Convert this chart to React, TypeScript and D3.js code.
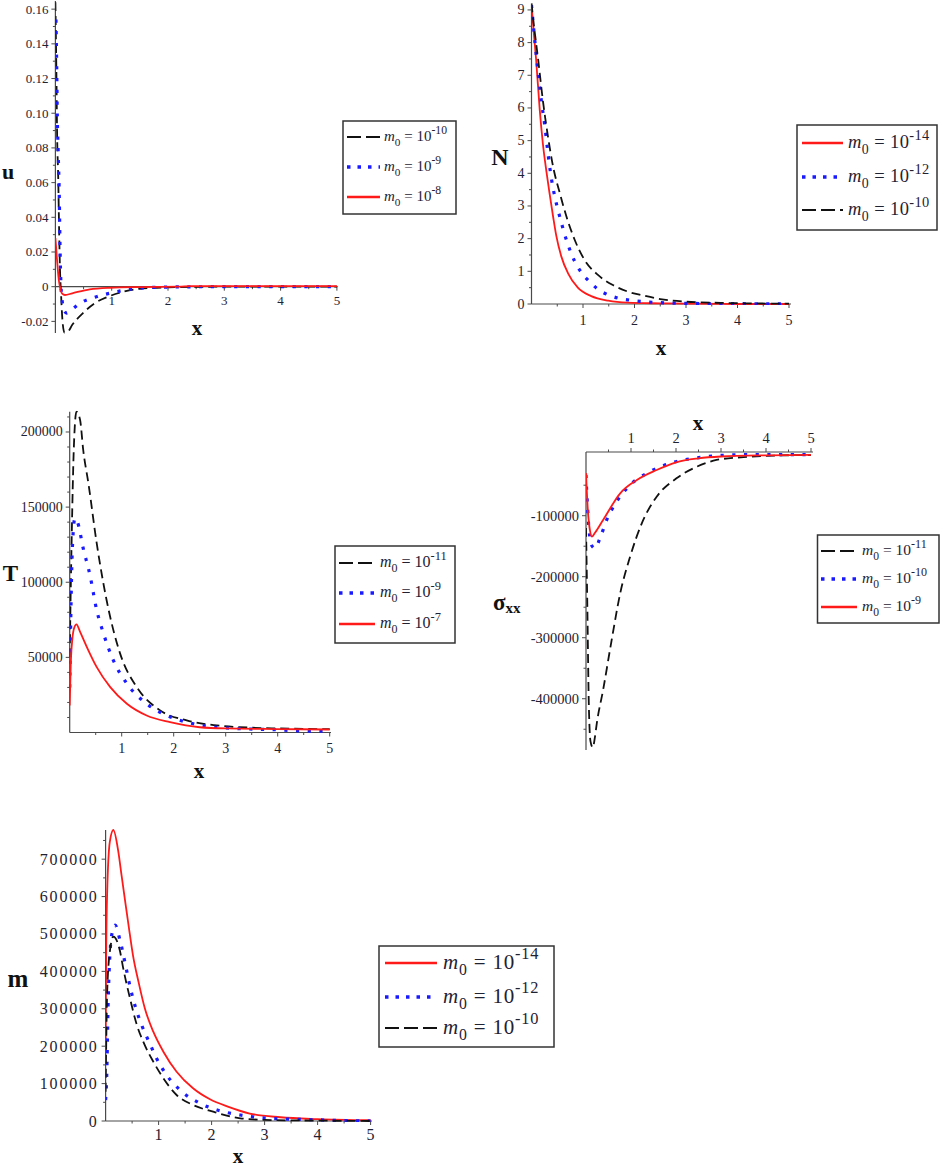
import React from 'react';
import * as d3 from 'd3';

type P = [number, number];

// ---------- data: u ----------
const uBlack: P[] = [[0, 0.164], [0.02, 0.117], [0.03, 0.0885], [0.05, 0.063], [0.065, 0.0346], [0.08, 0.0115], [0.1, -0.004], [0.12, -0.017], [0.16, -0.0265], [0.22, -0.026], [0.3, -0.022], [0.49, -0.0152], [0.7, -0.0095], [0.92, -0.006], [1.2, -0.003], [1.5, -0.0012], [2, -0.0004], [3, 0], [5, 0]];
const uBlue: P[] = [[0.01, 0.154], [0.023, 0.127], [0.034, 0.098], [0.05, 0.077], [0.07, 0.05], [0.08, 0.027], [0.1, 0], [0.12, -0.008], [0.15, -0.0135], [0.2, -0.0152], [0.3, -0.013], [0.44, -0.0095], [0.73, -0.0058], [1.09, -0.0029], [1.44, -0.001], [2, -0.0002], [3, 0], [5, 0]];
const uRed: P[] = [[0, 0.028], [0.03, 0.015], [0.06, 0.004], [0.08, 0], [0.12, -0.004], [0.17, -0.0048], [0.3, -0.0038], [0.61, -0.0015], [0.97, -0.0006], [1.5, -0.0002], [2.2, 0], [2.4, 0.0003], [5, 0.0003]];
const uYTicks = [-0.02, 0, 0.02, 0.04, 0.06, 0.08, 0.1, 0.12, 0.14, 0.16];
const uYLabels = ['-0.02', '0', '0.02', '0.04', '0.06', '0.08', '0.10', '0.12', '0.14', '0.16'];
const uYMinor = [-0.01, 0.01, 0.03, 0.05, 0.07, 0.09, 0.11, 0.13, 0.15];
const uExp = ['-10', '-9', '-8'];

// ---------- data: N ----------
const nRed: P[] = [[0, 9.15], [0.05, 8.2], [0.09, 7.47], [0.16, 5.94], [0.22, 4.92], [0.29, 4.05], [0.35, 3.39], [0.42, 2.67], [0.48, 2.1], [0.58, 1.45], [0.71, 0.94], [0.9, 0.5], [1.16, 0.24], [1.49, 0.1], [1.87, 0.04], [2.5, 0.02], [3, 0.01], [4, 0], [5, 0]];
const nBlue: P[] = [[0, 9.15], [0.07, 7.97], [0.13, 7.06], [0.19, 6.24], [0.26, 5.43], [0.32, 4.61], [0.38, 3.9], [0.45, 3.3], [0.51, 2.9], [0.57, 2.55], [0.63, 2.2], [0.7, 1.86], [0.77, 1.55], [0.9, 1.13], [0.97, 0.96], [1.13, 0.68], [1.29, 0.45], [1.49, 0.28], [1.68, 0.18], [1.9, 0.12], [2.13, 0.08], [2.5, 0.04], [3, 0.02], [4, 0.01], [5, 0]];
const nBlack: P[] = [[0, 9.2], [0.035, 8.69], [0.13, 7.47], [0.22, 6.24], [0.32, 5.12], [0.42, 4.2], [0.55, 3.39], [0.68, 2.67], [0.84, 1.96], [1.03, 1.35], [1.29, 0.89], [1.58, 0.58], [1.87, 0.38], [2.17, 0.26], [2.5, 0.15], [3, 0.07], [3.8, 0.03], [5, 0.01]];
const nYTicks = [0, 1, 2, 3, 4, 5, 6, 7, 8, 9];
const nYLabels = ['0', '1', '2', '3', '4', '5', '6', '7', '8', '9'];
const nYMinor = [0.5, 1.5, 2.5, 3.5, 4.5, 5.5, 6.5, 7.5, 8.5];
const nExp = ['-14', '-12', '-10'];

// ---------- data: T ----------
const tBlack: P[] = [[0, 50000], [0.02, 95000], [0.04, 132600], [0.08, 190000], [0.13, 213500], [0.2, 208000], [0.26, 188000], [0.36, 165800], [0.52, 125800], [0.71, 88000], [0.97, 52500], [1.29, 30200], [1.74, 14700], [2.25, 8000], [2.83, 4700], [3.5, 3200], [4, 2700], [5, 2200]];
const tBlue: P[] = [[0, 30000], [0.02, 75000], [0.04, 110000], [0.07, 135000], [0.1, 142500], [0.15, 140000], [0.26, 122500], [0.39, 104700], [0.52, 81300], [0.65, 65800], [0.84, 48000], [1.1, 32500], [1.48, 19100], [1.87, 11300], [2.38, 5800], [3, 3000], [4, 1800], [4.5, 1000], [5, 800]];
const tRed: P[] = [[0, 18000], [0.02, 45000], [0.05, 62000], [0.09, 70000], [0.13, 72000], [0.2, 67000], [0.33, 56900], [0.52, 43500], [0.78, 30200], [1.1, 19100], [1.48, 11300], [1.93, 6900], [2.5, 3500], [3, 2700], [4, 2300], [5, 2000]];
const tYTicks = [50000, 100000, 150000, 200000];
const tYLabels = ['50000', '100000', '150000', '200000'];
const tYMinor = [10000, 20000, 30000, 40000, 60000, 70000, 80000, 90000, 110000, 120000, 130000, 140000, 160000, 170000, 180000, 190000, 210000];
const tExp = ['-11', '-9', '-7'];

// ---------- data: sigma_xx ----------
const sBlack: P[] = [[0, -120000], [0.03, -250000], [0.06, -400000], [0.1, -470000], [0.15, -480000], [0.2, -462000], [0.24, -440300], [0.38, -385700], [0.57, -303800], [0.76, -227200], [0.98, -167200], [1.24, -112500], [1.57, -68900], [2.01, -38700], [2.46, -19700], [2.9, -8700], [3.5, -4000], [4, -2000], [5, -500]];
const sBlue: P[] = [[0, -33000], [0.03, -80000], [0.07, -125000], [0.12, -148000], [0.2, -153400], [0.31, -137000], [0.46, -107000], [0.68, -77000], [0.94, -52500], [1.35, -30500], [1.87, -14100], [2.6, -4000], [3.5, 0], [5, 0]];
const sRed: P[] = [[0, -30000], [0.04, -90000], [0.09, -125000], [0.13, -134400], [0.2, -128000], [0.38, -107000], [0.76, -63300], [1.13, -41500], [1.57, -25100], [2.0, -12500], [2.5, -6000], [3, -3000], [4, -1000], [5, -300]];
const sYTicks = [-400000, -300000, -200000, -100000];
const sYLabels = ['-400000', '-300000', '-200000', '-100000'];
const sYMinor = [-450000, -350000, -250000, -150000, -50000];
const sExp = ['-11', '-10', '-9'];

// ---------- data: m ----------
const mRed: P[] = [[0, 185000], [0.01, 435000], [0.03, 613000], [0.08, 746800], [0.146, 778000], [0.24, 720000], [0.3, 657800], [0.37, 586400], [0.45, 506100], [0.52, 440000], [0.62, 372500], [0.74, 301300], [0.9, 238800], [1.09, 185300], [1.34, 131800], [1.65, 87400], [1.97, 58000], [2.32, 38000], [2.72, 20000], [3.3, 10000], [4, 5000], [5, 2000]];
const mBlue: P[] = [[0, 56000], [0.02, 115000], [0.05, 328000], [0.115, 497000], [0.18, 524000], [0.27, 484000], [0.4, 400000], [0.46, 360000], [0.59, 292000], [0.68, 256700], [0.84, 205000], [0.96, 167600], [1.15, 123000], [1.44, 78300], [1.78, 47300], [2.22, 24900], [2.54, 16000], [3, 8000], [4, 3000], [5, 0]];
const mBlack: P[] = [[0, 78000], [0.03, 345700], [0.08, 452700], [0.146, 492800], [0.27, 455000], [0.33, 410000], [0.46, 328000], [0.59, 256700], [0.71, 212000], [0.9, 158600], [1.09, 114200], [1.34, 69500], [1.65, 42800], [2.03, 24900], [2.54, 7200], [3, 3000], [4, 1000], [5, 0]];
const mYTicks = [0, 100000, 200000, 300000, 400000, 500000, 600000, 700000];
const mYLabels = ['0', '100000', '200000', '300000', '400000', '500000', '600000', '700000'];
const mYMinor = [50000, 150000, 250000, 350000, 450000, 550000, 650000, 750000];
const mExp = ['-14', '-12', '-10'];

const xTicks = [1, 2, 3, 4, 5];
const xLabels = ['1', '2', '3', '4', '5'];
const xMinor = [0.5, 1.5, 2.5, 3.5, 4.5];

// ---------- styles ----------
const FONT = '"Liberation Serif", "Times New Roman", serif';
const TXT = '#1f2233';
const AX = '#4a4a4a';
type Sty = { color: string; dash?: string; width: number; ldash?: string; lwidth: number };
const BLACK: Sty = { color: '#111111', dash: '9,5', width: 1.8, ldash: '14,5', lwidth: 2.2 };
const BLUE: Sty = { color: '#1a1aff', dash: '3.2,8.5', width: 3.2, ldash: '3.5,7', lwidth: 3.5 };
const RED: Sty = { color: '#ff1a1a', width: 1.8, lwidth: 2.4 };

type Lg = { x: number; y: number; w: number; h: number; rows: number[]; lx1: number; lx2: number; tx: number; fs: number; ls?: number };

type PanelCfg = {
  id: string;
  xr: [number, number];
  yd: [number, number];
  yr: [number, number];
  xAxisVal: number;
  xAxisEnd: number;
  xLabDy: number;
  xTickDir: number;
  yTicks: number[];
  yLabels: string[];
  yMinor: number[];
  fs: number;
  ls?: number;
  series: { data: P[]; sty: Sty }[];
  exps: string[];
  lg: Lg;
  yTitle: React.ReactNode;
  xTitle: [number, number];
};

function Legend({ lg, series, exps }: { lg: Lg; series: { sty: Sty }[]; exps: string[] }) {
  const fs = lg.fs;
  return (
    <g>
      <rect x={lg.x} y={lg.y} width={lg.w} height={lg.h} fill="white" stroke="#333" strokeWidth={1.5} />
      {series.map((s, i) => {
        const yy = lg.rows[i];
        return (
          <g key={i}>
            <line x1={lg.lx1} x2={lg.lx2} y1={yy} y2={yy} stroke={s.sty.color} strokeWidth={s.sty.lwidth} strokeDasharray={s.sty.ldash} />
            <text x={lg.tx} y={yy + fs * 0.28} fontFamily={FONT} fontSize={fs} fill={TXT} letterSpacing={lg.ls || 0}>
              <tspan fontStyle="italic">m</tspan>
              <tspan dy={fs * 0.3} fontSize={fs * 0.75}>0</tspan>
              <tspan dy={-fs * 0.3}>{' = 10'}</tspan>
              <tspan dy={-fs * 0.45} fontSize={fs * 0.78}>{exps[i]}</tspan>
            </text>
          </g>
        );
      })}
    </g>
  );
}

function Panel({ p }: { p: PanelCfg }) {
  const x = d3.scaleLinear().domain([0, 5]).range(p.xr);
  const y = d3.scaleLinear().domain(p.yd).range(p.yr);
  const line = d3.line<P>().x((d) => x(d[0])).y((d) => y(d[1])).curve(d3.curveMonotoneX);
  const ax = x(0);
  const ay = y(p.xAxisVal);
  const top = Math.min(p.yr[0], p.yr[1]);
  const bot = Math.max(p.yr[0], p.yr[1]);
  const cid = 'clip-' + p.id;
  return (
    <g>
      <defs>
        <clipPath id={cid}>
          <rect x={p.xr[0]} y={top - 1} width={p.xr[1] - p.xr[0] + 2} height={bot - top + 2} />
        </clipPath>
      </defs>
      <line x1={ax} x2={ax} y1={top} y2={bot} stroke={AX} strokeWidth={1.2} />
      {p.yTicks.map((t, i) => (
        <g key={'yt' + i}>
          <line x1={ax - 4} x2={ax} y1={y(t)} y2={y(t)} stroke={AX} strokeWidth={1} />
          <text x={ax - 7} y={y(t)} textAnchor="end" dominantBaseline="central" fontFamily={FONT} fontSize={p.fs} fill={TXT} letterSpacing={p.ls || 0}>
            {p.yLabels[i]}
          </text>
        </g>
      ))}
      {p.yMinor.map((t, i) => (
        <line key={'ym' + i} x1={ax - 2.5} x2={ax} y1={y(t)} y2={y(t)} stroke={AX} strokeWidth={1} />
      ))}
      <line x1={ax} x2={p.xAxisEnd} y1={ay} y2={ay} stroke={AX} strokeWidth={1.2} />
      {xTicks.map((t, i) => (
        <g key={'xt' + i}>
          <line x1={x(t)} x2={x(t)} y1={ay} y2={ay + 4 * p.xTickDir} stroke={AX} strokeWidth={1} />
          <text x={x(t)} y={ay + p.xLabDy} textAnchor="middle" dominantBaseline="central" fontFamily={FONT} fontSize={p.fs} fill={TXT}>
            {xLabels[i]}
          </text>
        </g>
      ))}
      {xMinor.map((t, i) => (
        <line key={'xm' + i} x1={x(t)} x2={x(t)} y1={ay} y2={ay + 2.5 * p.xTickDir} stroke={AX} strokeWidth={1} />
      ))}
      <g clipPath={`url(#${cid})`}>
        {p.series.map((s, i) => (
          <path key={i} d={line(s.data) || ''} fill="none" stroke={s.sty.color} strokeWidth={s.sty.width} strokeDasharray={s.sty.dash} />
        ))}
      </g>
      <text x={p.xTitle[0]} y={p.xTitle[1]} textAnchor="middle" dominantBaseline="central" fontFamily={FONT} fontWeight="bold" fontSize={21} fill="#111">
        x
      </text>
      {p.yTitle}
      <Legend lg={p.lg} series={p.series} exps={p.exps} />
    </g>
  );
}

const bold = { fontFamily: FONT, fontWeight: 'bold' as const, fill: '#111' };

const panels: PanelCfg[] = [
  {
    id: 'u',
    xr: [55.4, 336.9],
    yd: [-0.0267, 0.1647],
    yr: [333, 1],
    xAxisVal: 0,
    xAxisEnd: 337.7,
    xLabDy: 14,
    xTickDir: 1,
    yTicks: uYTicks,
    yLabels: uYLabels,
    yMinor: uYMinor,
    fs: 13,
    series: [{ data: uBlack, sty: BLACK }, { data: uBlue, sty: BLUE }, { data: uRed, sty: RED }],
    exps: uExp,
    lg: { x: 343, y: 121, w: 113, h: 93, rows: [137, 167, 197], lx1: 347, lx2: 380, tx: 384, fs: 15 },
    yTitle: <text x={8} y={171} textAnchor="middle" dominantBaseline="central" fontSize={22} {...bold}>u</text>,
    xTitle: [197, 328],
  },
  {
    id: 'n',
    xr: [531.5, 789],
    yd: [0, 9.2],
    yr: [304, 3.4],
    xAxisVal: 0,
    xAxisEnd: 791,
    xLabDy: 16.5,
    xTickDir: 1,
    yTicks: nYTicks,
    yLabels: nYLabels,
    yMinor: nYMinor,
    fs: 14,
    series: [{ data: nRed, sty: RED }, { data: nBlue, sty: BLUE }, { data: nBlack, sty: BLACK }],
    exps: nExp,
    lg: { x: 797, y: 125, w: 140, h: 105, rows: [143, 177, 210], lx1: 802, lx2: 843, tx: 848, fs: 18.5, ls: 0.4 },
    yTitle: <text x={500} y={157} textAnchor="middle" dominantBaseline="central" fontSize={24} {...bold}>N</text>,
    xTitle: [661, 348],
  },
  {
    id: 't',
    xr: [69.7, 329.7],
    yd: [0, 213500],
    yr: [732.5, 411.7],
    xAxisVal: 0,
    xAxisEnd: 331,
    xLabDy: 16,
    xTickDir: 1,
    yTicks: tYTicks,
    yLabels: tYLabels,
    yMinor: tYMinor,
    fs: 14,
    series: [{ data: tBlack, sty: BLACK }, { data: tBlue, sty: BLUE }, { data: tRed, sty: RED }],
    exps: tExp,
    lg: { x: 335, y: 546, w: 120, h: 97, rows: [563, 593, 624], lx1: 339, lx2: 375, tx: 380, fs: 16 },
    yTitle: <text x={10.5} y={573} textAnchor="middle" dominantBaseline="central" fontSize={23} {...bold}>T</text>,
    xTitle: [199, 771],
  },
  {
    id: 's',
    xr: [586, 811],
    yd: [-484000, 4400],
    yr: [750, 452],
    xAxisVal: 4400,
    xAxisEnd: 813,
    xLabDy: -14,
    xTickDir: -1,
    yTicks: sYTicks,
    yLabels: sYLabels,
    yMinor: sYMinor,
    fs: 14.5,
    series: [{ data: sBlack, sty: BLACK }, { data: sBlue, sty: BLUE }, { data: sRed, sty: RED }],
    exps: sExp,
    lg: { x: 817.5, y: 535, w: 121.5, h: 88, rows: [551, 579, 607], lx1: 821, lx2: 857, tx: 862, fs: 15.5 },
    yTitle: (
      <text x={493} y={602} dominantBaseline="central" fontSize={23} {...bold}>
        σ<tspan dy={6} fontSize={15}>xx</tspan>
      </text>
    ),
    xTitle: [698, 423],
  },
  {
    id: 'm',
    xr: [105.6, 370.6],
    yd: [0, 778000],
    yr: [1121, 830],
    xAxisVal: 0,
    xAxisEnd: 372,
    xLabDy: 13.5,
    xTickDir: 1,
    yTicks: mYTicks,
    yLabels: mYLabels,
    yMinor: mYMinor,
    fs: 16,
    ls: 1.8,
    series: [{ data: mRed, sty: RED }, { data: mBlue, sty: BLUE }, { data: mBlack, sty: BLACK }],
    exps: mExp,
    lg: { x: 379, y: 946, w: 175, h: 101, rows: [963, 997, 1028], lx1: 385, lx2: 437, tx: 443, fs: 21, ls: 0.8 },
    yTitle: <text x={18} y={978} textAnchor="middle" dominantBaseline="central" fontSize={25} {...bold}>m</text>,
    xTitle: [238, 1156],
  },
];

export default function App() {
  return (
    <svg width={941} height={1168} viewBox="0 0 941 1168" style={{ display: 'block', position: 'absolute', left: 0, top: 0, background: 'white' }}>
      <rect x={0} y={0} width={941} height={1168} fill="white" />
      {panels.map((p) => (
        <Panel key={p.id} p={p} />
      ))}
    </svg>
  );
}
